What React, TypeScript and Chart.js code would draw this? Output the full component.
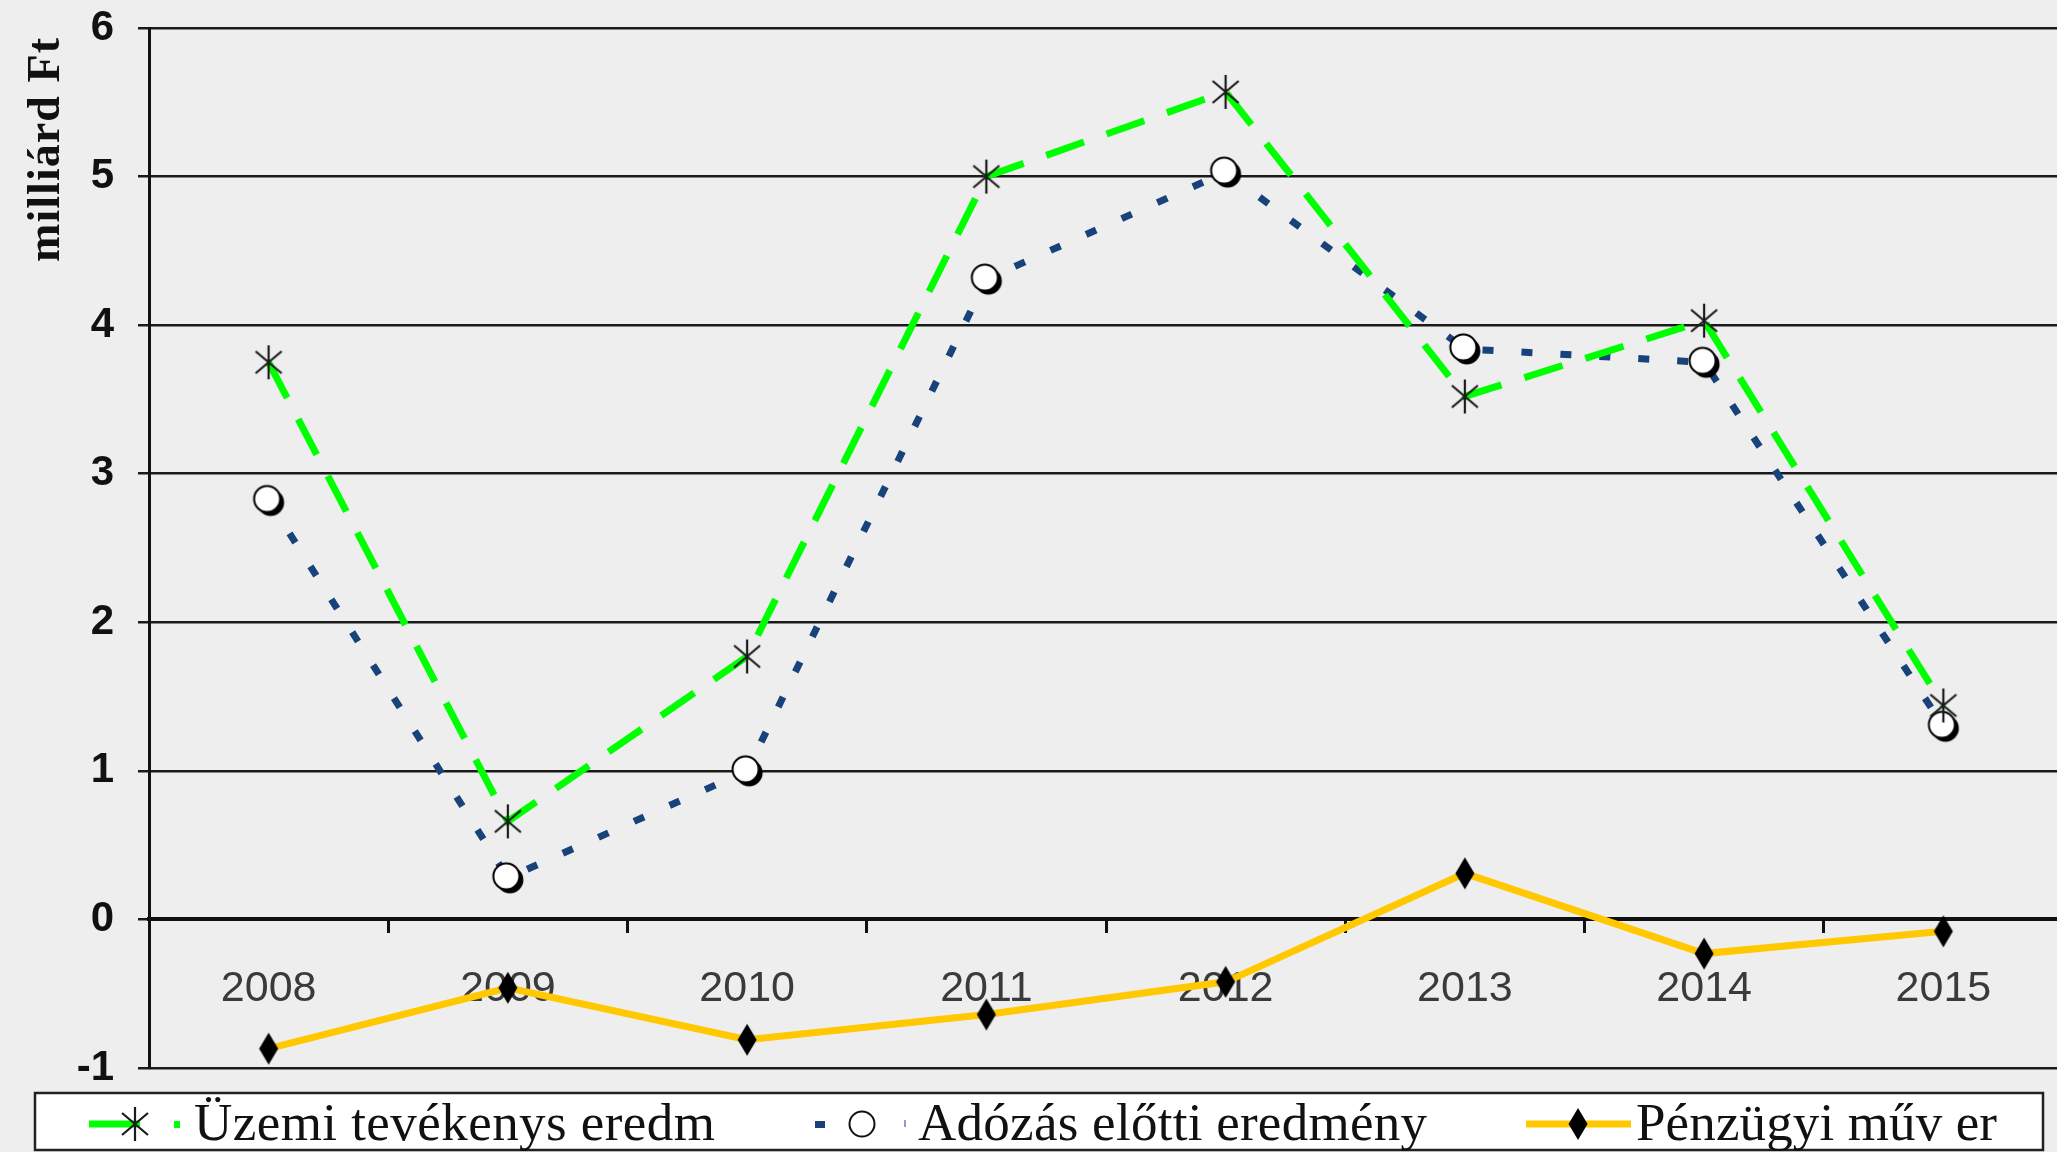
import { useEffect, useRef } from 'react';
import { Chart, registerables } from 'chart.js';

Chart.register(...registerables);

// ---- data ----
const years = ['2008', '2009', '2010', '2011', '2012', '2013', '2014', '2015'];
const uzemiValues = [3.75, 0.66, 1.77, 5.0, 5.57, 3.52, 4.03, 1.44];
const adozasValues = [2.82, 0.28, 1.0, 4.31, 5.03, 3.84, 3.75, 1.3];
const penzugyiValues = [-0.87, -0.46, -0.81, -0.64, -0.42, 0.31, -0.23, -0.08];
const seriesNames = ['Üzemi tevékenys eredm', 'Adózás előtti eredmény', 'Pénzügyi műv er'];
const yMin = -1;
const yMax = 6;
const yStep = 1;
const yTitle = 'milliárd Ft';

const GREEN = '#00ff00';
const NAVY = '#17437a';
const YELLOW = '#ffc800';
const BG = '#eeeeee';

const CW = 2086;
const CH = 1152;

function makeCanvas(w: number, h: number, draw: (c: CanvasRenderingContext2D) => void) {
  const cv = document.createElement('canvas');
  cv.width = w;
  cv.height = h;
  const c = cv.getContext('2d')!;
  draw(c);
  return cv;
}

const asterisk = () =>
  makeCanvas(36, 36, (c) => {
    c.strokeStyle = '#1a1a1a';
    c.lineWidth = 2.2;
    c.beginPath();
    c.moveTo(18, 1);
    c.lineTo(18, 35);
    c.moveTo(5, 7);
    c.lineTo(31, 29);
    c.moveTo(31, 7);
    c.lineTo(5, 29);
    c.stroke();
  });

const shadowCircle = () =>
  makeCanvas(36, 36, (c) => {
    c.fillStyle = '#000';
    c.beginPath();
    c.arc(20, 20, 13.5, 0, Math.PI * 2);
    c.fill();
    c.fillStyle = '#fff';
    c.strokeStyle = '#000';
    c.lineWidth = 2;
    c.beginPath();
    c.arc(16.5, 16.5, 13, 0, Math.PI * 2);
    c.fill();
    c.stroke();
  });

const plainCircle = () =>
  makeCanvas(32, 32, (c) => {
    c.fillStyle = '#fff';
    c.strokeStyle = '#111';
    c.lineWidth = 2;
    c.beginPath();
    c.arc(16, 16, 12.5, 0, Math.PI * 2);
    c.fill();
    c.stroke();
  });

const diamond = () =>
  makeCanvas(22, 34, (c) => {
    c.fillStyle = '#000';
    c.beginPath();
    c.moveTo(11, 1);
    c.lineTo(20.5, 17);
    c.lineTo(11, 33);
    c.lineTo(1.5, 17);
    c.closePath();
    c.fill();
  });

const zeroPad = (s: any) => {
  s.paddingTop = 0;
  s.paddingBottom = 0;
  s.paddingLeft = 0;
  s.paddingRight = 0;
};

export default function App() {
  const ref = useRef<HTMLCanvasElement | null>(null);

  useEffect(() => {
    document.body.style.margin = '0';
    document.body.style.overflow = 'hidden';
    const canvas = ref.current!;
    const astImg = asterisk();
    const circImg = shadowCircle();
    const legCirc = plainCircle();
    const diaImg = diamond();

    const bgPlugin = {
      id: 'bg',
      beforeDraw(chart: any) {
        const { ctx, width, height } = chart;
        ctx.save();
        ctx.fillStyle = BG;
        ctx.fillRect(0, 0, width, height);
        ctx.restore();
      },
    };

    const fitText = (ctx: CanvasRenderingContext2D, text: string, x: number, y: number, target: number) => {
      (ctx as any).letterSpacing = '0px';
      const natural = ctx.measureText(text).width;
      const n = Array.from(text).length;
      const sp = (target - natural) / Math.max(1, n - 1);
      (ctx as any).letterSpacing = `${sp}px`;
      ctx.fillText(text, x, y);
      (ctx as any).letterSpacing = '0px';
    };

    const decorPlugin = {
      id: 'decor',
      afterDraw(chart: any) {
        const { ctx } = chart;
        ctx.save();
        // y axis title
        ctx.translate(47, 150);
        ctx.rotate(-Math.PI / 2);
        ctx.fillStyle = '#111';
        ctx.font = 'bold 46px "Liberation Serif", serif';
        ctx.textAlign = 'left';
        ctx.textBaseline = 'middle';
        fitText(ctx, yTitle, -112, 0, 224);
        ctx.restore();

        // legend
        ctx.save();
        const lx = 35, ly = 1093, lw = 2008, lh = 57;
        ctx.fillStyle = '#ffffff';
        ctx.fillRect(lx, ly, lw, lh);
        ctx.strokeStyle = '#222';
        ctx.lineWidth = 2.5;
        ctx.strokeRect(lx, ly, lw, lh);
        const cy = 1124;
        // item 1
        ctx.strokeStyle = GREEN;
        ctx.lineWidth = 7;
        ctx.beginPath();
        ctx.moveTo(89, cy);
        ctx.lineTo(140, cy);
        ctx.stroke();
        ctx.drawImage(astImg, 135 - 18, cy - 18);
        ctx.fillStyle = GREEN;
        ctx.fillRect(174, cy - 3, 6, 7);
        // item 2
        ctx.fillStyle = NAVY;
        ctx.fillRect(815, cy - 3, 10, 7);
        ctx.drawImage(legCirc, 862 - 16, cy - 16);
        ctx.fillStyle = '#8aa0bb';
        ctx.fillRect(904, cy - 4, 2, 7);
        // item 3
        ctx.strokeStyle = YELLOW;
        ctx.lineWidth = 7;
        ctx.beginPath();
        ctx.moveTo(1526, cy);
        ctx.lineTo(1631, cy);
        ctx.stroke();
        ctx.drawImage(diaImg, 1578 - 11, cy - 17);
        // texts
        ctx.fillStyle = '#111';
        ctx.font = '53px "Liberation Serif", serif';
        ctx.textAlign = 'left';
        ctx.textBaseline = 'alphabetic';
        fitText(ctx, seriesNames[0], 194, 1140, 521);
        fitText(ctx, seriesNames[1], 918, 1140, 509);
        fitText(ctx, seriesNames[2], 1636, 1140, 361);
        ctx.restore();
      },
    };

    const chart = new Chart(canvas, {
      type: 'line',
      data: {
        labels: years,
        datasets: [
          {
            label: seriesNames[0],
            data: uzemiValues,
            borderColor: GREEN,
            backgroundColor: GREEN,
            borderWidth: 7,
            borderDash: [40, 24],
            borderCapStyle: 'butt',
            pointStyle: astImg as any,
            pointRadius: 16,
            tension: 0,
            fill: false,
          },
          {
            label: seriesNames[1],
            data: adozasValues,
            borderColor: NAVY,
            backgroundColor: NAVY,
            borderWidth: 7,
            borderDash: [11, 28],
            borderCapStyle: 'butt',
            pointStyle: circImg as any,
            pointRadius: 16,
            tension: 0,
            fill: false,
          },
          {
            label: seriesNames[2],
            data: penzugyiValues,
            borderColor: YELLOW,
            backgroundColor: YELLOW,
            borderWidth: 7,
            pointStyle: diaImg as any,
            pointRadius: 16,
            tension: 0,
            fill: false,
          },
        ],
      },
      options: {
        responsive: false,
        maintainAspectRatio: false,
        animation: false,
        devicePixelRatio: 1,
        layout: { padding: { left: 0, top: 28, right: 0, bottom: 84 } },
        plugins: {
          legend: { display: false },
          tooltip: { enabled: false },
          title: { display: false },
        },
        scales: {
          x: {
            type: 'category',
            position: { y: 0 } as any,
            offset: true,
            afterFit: zeroPad,
            grid: {
              offset: true,
              drawOnChartArea: false,
              drawTicks: true,
              tickLength: 12,
              color: '#111',
              lineWidth: 3,
            },
            border: { display: true, color: '#111', width: 4 },
            ticks: {
              color: '#3a3a3a',
              font: { family: '"Liberation Sans", sans-serif', size: 43 },
              padding: 32,
              maxRotation: 0,
              autoSkip: false,
            },
          },
          y: {
            min: yMin,
            max: yMax,
            afterFit: (s: any) => {
              s.width = 149;
              zeroPad(s);
            },
            ticks: {
              stepSize: yStep,
              color: '#111',
              font: { family: '"Liberation Sans", sans-serif', size: 42, weight: 'bold' },
              padding: 24,
            },
            grid: { color: '#1a1a1a', lineWidth: 2.5, tickLength: 11 },
            border: { display: true, color: '#111', width: 3 },
          },
        },
      },
      plugins: [bgPlugin, decorPlugin],
    });

    return () => chart.destroy();
  }, []);

  return (
    <div style={{ width: CW, height: CH, position: 'relative' }}>
      <canvas ref={ref} width={CW} height={CH} style={{ display: 'block', width: CW, height: CH }} />
    </div>
  );
}
